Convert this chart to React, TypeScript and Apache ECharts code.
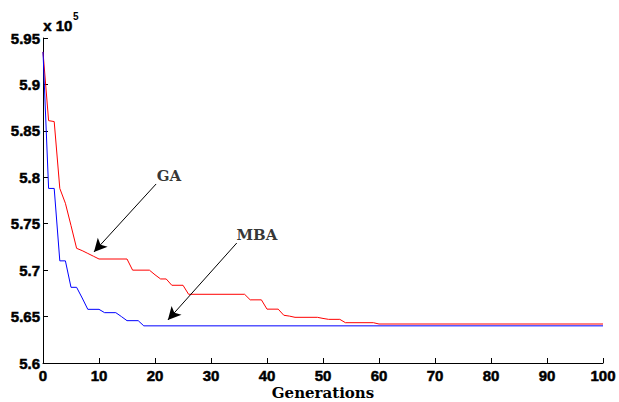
import React, { useEffect, useRef } from "react";
import * as echarts from "echarts";

const gaGen = [0, 1, 2, 3, 4, 5, 6, 7, 8, 9, 10, 15, 16, 19, 20, 21, 22, 23, 25, 26, 36, 37, 39, 40, 42, 43, 44, 45, 49, 50, 51, 53, 54, 59, 60, 100];
const gaVal = [5.935, 5.861, 5.86, 5.788, 5.772, 5.748, 5.7235, 5.721, 5.718, 5.715, 5.712, 5.712, 5.7, 5.7, 5.695, 5.6905, 5.6905, 5.6837, 5.6837, 5.674, 5.674, 5.668, 5.668, 5.658, 5.658, 5.6514, 5.6505, 5.6492, 5.6492, 5.648, 5.647, 5.647, 5.6434, 5.6434, 5.642, 5.642];

const mbaGen = [0, 1, 2, 3, 4, 5, 6, 7, 8, 10, 11, 13, 14, 15, 17, 18, 100];
const mbaVal = [5.935, 5.788, 5.788, 5.71, 5.71, 5.6815, 5.6815, 5.67, 5.6578, 5.6578, 5.6542, 5.6542, 5.65, 5.6456, 5.6456, 5.64, 5.64];

const annLabels = ["GA", "MBA"];
const annText = [[22.5, 5.801], [38.2, 5.738]];
const annStart = [[20.2, 5.7928], [34.6, 5.7292]];
const annTip = [[9.1, 5.7196], [22.3, 5.6463]];

const xTicks = { min: 0, max: 100, interval: 10 };
const yTicks = { min: 5.6, max: 5.95, interval: 0.05 };

const serif = "DejaVu Serif";
const sans = "Arial";

const sansStyle = {
  fontFamily: sans,
  fontWeight: "bold",
  fontSize: 15,
  color: "#000",
  textBorderColor: "#000",
  textBorderWidth: 0.5,
};

export default function App() {
  const ref = useRef<HTMLDivElement>(null);
  useEffect(() => {
    if (!ref.current) return;
    const chart = echarts.init(ref.current, null, { renderer: "svg" });
    const gaData = gaGen.map((g, i) => [g, gaVal[i]]);
    const mbaData = mbaGen.map((g, i) => [g, mbaVal[i]]);
    chart.setOption({
      animation: false,
      backgroundColor: "#ffffff",
      grid: { left: 43, right: 16, top: 38, bottom: 39, containLabel: false, outerBoundsMode: "none" },
      xAxis: {
        type: "value",
        min: xTicks.min,
        max: xTicks.max,
        interval: xTicks.interval,
        name: "Generations",
        nameLocation: "middle",
        nameMoveOverlap: false,
        nameGap: 21,
        nameTextStyle: { fontFamily: serif, fontWeight: "bold", fontSize: 15, lineHeight: 17, color: "#000" },
        axisLine: { lineStyle: { color: "#000", width: 1 } },
        axisTick: { inside: true, length: 5, lineStyle: { color: "#000" } },
        axisLabel: { ...sansStyle, margin: 5 },
        splitLine: { show: false },
      },
      yAxis: {
        type: "value",
        min: yTicks.min,
        max: yTicks.max,
        interval: yTicks.interval,
        axisLine: { show: true, lineStyle: { color: "#000", width: 1 } },
        axisTick: { show: true, inside: true, length: 5, lineStyle: { color: "#000" } },
        axisLabel: {
          ...sansStyle,
          margin: 3,
          formatter: (v: number) => String(Number(v.toFixed(2))),
        },
        splitLine: { show: false },
      },
      graphic: [
        {
          type: "text",
          left: 43,
          top: 18,
          style: { text: "x 10", fontFamily: sans, fontWeight: "bold", fontSize: 15, fill: "#000", stroke: "#000", lineWidth: 0.5 },
        },
        {
          type: "text",
          left: 73,
          top: 11,
          style: { text: "5", fontFamily: sans, fontWeight: "bold", fontSize: 10, fill: "#000" },
        },
      ],
      series: [
        {
          name: "GA",
          type: "line",
          data: gaData,
          showSymbol: false,
          symbol: "none",
          lineStyle: { color: "#ff0000", width: 1 },
          z: 2,
          markLine: {
            silent: true,
            symbol: ["none", "arrow"],
            symbolSize: [10, 13],
            lineStyle: { color: "#000", width: 1, type: "solid" },
            label: { show: false },
            data: annLabels.map((_, i) => [
              { coord: annStart[i] },
              { coord: annTip[i] },
            ]),
          },
        },
        {
          name: "MBA",
          type: "line",
          data: mbaData,
          showSymbol: false,
          symbol: "none",
          lineStyle: { color: "#0000ff", width: 1 },
          z: 3,
        },
        {
          name: "labels",
          type: "scatter",
          symbolSize: 0,
          data: annLabels.map((l, i) => ({ name: l, value: annText[i] })),
          label: {
            show: true,
            position: "inside",
            formatter: (p: any) => p.name,
            fontFamily: serif,
            fontWeight: "bold",
            fontSize: 15,
            color: "#000",
          },
          z: 4,
        },
      ],
    });
    return () => chart.dispose();
  }, []);
  return <div ref={ref} style={{ width: 619, height: 402, position: "absolute", left: 0, top: 0 }} />;
}
